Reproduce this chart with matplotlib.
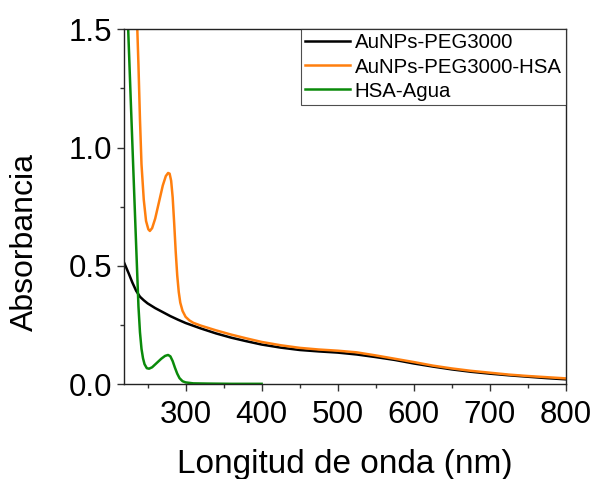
import matplotlib
matplotlib.use("Agg")
import matplotlib.pyplot as plt
from matplotlib.ticker import MultipleLocator

plt.rcParams['font.family'] = ['Liberation Sans', 'DejaVu Sans']

# AuNPs-PEG3000
wl_peg = [219, 225, 230, 235, 240, 245, 250, 260, 270, 280, 290, 300, 320, 340, 360, 380, 400,
          425, 450, 475, 500, 525, 550, 575, 600, 625, 650, 675, 700, 725, 750, 775, 800]
abs_peg = [0.515, 0.47, 0.43, 0.395, 0.37, 0.355, 0.342, 0.322, 0.305, 0.288, 0.273, 0.259, 0.236,
           0.215, 0.197, 0.182, 0.168, 0.155, 0.145, 0.139, 0.134, 0.126, 0.115, 0.103, 0.088,
           0.075, 0.063, 0.053, 0.045, 0.038, 0.032, 0.026, 0.021]

# AuNPs-PEG3000-HSA
wl_hsa = [236, 238, 240, 242, 245, 248, 251, 253, 256, 260, 265, 270, 274, 277, 279, 281, 283, 285,
          287, 289, 291, 293, 296, 300, 305, 310, 320, 340, 360, 380, 400, 425, 450, 475, 500, 525,
          550, 575, 600, 625, 650, 675, 700, 725, 750, 775, 800]
abs_hsa = [1.55, 1.35, 1.12, 0.93, 0.78, 0.69, 0.655, 0.648, 0.66, 0.70, 0.77, 0.84, 0.88, 0.893,
           0.89, 0.86, 0.79, 0.68, 0.56, 0.46, 0.39, 0.345, 0.31, 0.285, 0.27, 0.26, 0.248, 0.228,
           0.21, 0.194, 0.179, 0.165, 0.154, 0.147, 0.142, 0.135, 0.122, 0.108, 0.094, 0.079,
           0.067, 0.057, 0.049, 0.041, 0.035, 0.03, 0.025]

# HSA-Agua
wl_agua = [220, 224.5, 228, 231, 234, 236, 238, 240, 242, 244, 246, 249, 252, 256, 262, 268, 273,
           277, 280, 283, 286, 289, 292, 296, 300, 310, 330, 360, 400]
abs_agua = [1.9, 1.5, 1.19, 0.93, 0.67, 0.5, 0.33, 0.22, 0.15, 0.11, 0.085, 0.068, 0.066, 0.072,
            0.09, 0.108, 0.12, 0.124, 0.118, 0.098, 0.07, 0.045, 0.026, 0.013, 0.008, 0.004,
            0.003, 0.002, 0.002]

labels = ["AuNPs-PEG3000", "AuNPs-PEG3000-HSA", "HSA-Agua"]
colors = ["#000000", "#ff7f0e", "#0a8a0a"]

fig = plt.figure(figsize=(5.95, 4.79), dpi=100)
ax = fig.add_axes([0.2084, 0.1977, 0.951 - 0.2084, 0.9388 - 0.1977])

ax.plot(wl_peg, abs_peg, color=colors[0], lw=1.8, label=labels[0])
ax.plot(wl_hsa, abs_hsa, color=colors[1], lw=1.8, label=labels[1])
ax.plot(wl_agua, abs_agua, color=colors[2], lw=1.8, label=labels[2])

ax.set_xlim(219, 800)
ax.set_ylim(0, 1.5)
ax.xaxis.set_major_locator(MultipleLocator(100))
ax.xaxis.set_minor_locator(MultipleLocator(50))
ax.yaxis.set_major_locator(MultipleLocator(0.5))
ax.yaxis.set_minor_locator(MultipleLocator(0.25))
ax.yaxis.set_major_formatter(plt.FuncFormatter(lambda v, p: f"{v:.1f}"))

ax.tick_params(which='both', direction='out', top=False, right=False, labelsize=22.5, width=1, color='#333333')
ax.tick_params(axis='x', which='major', length=5, pad=6)
ax.tick_params(axis='y', which='major', length=5, pad=3.5)
ax.tick_params(which='minor', length=3)
for s in ax.spines.values():
    s.set_linewidth(1.0)
    s.set_color('#222222')

ax.set_xlabel("Longitud de onda (nm)", fontsize=24, labelpad=14)
ax.set_ylabel("Absorbancia", fontsize=23)
ax.yaxis.set_label_coords(-0.19, 0.40)

leg = ax.legend(loc='upper right', borderaxespad=0, fontsize=14.7, frameon=True, fancybox=False,
                edgecolor='#222222', handlelength=2.2, handletextpad=0.25, labelspacing=0.25,
                borderpad=0.2)
leg.get_frame().set_linewidth(0.8)

fig.savefig("out.png", dpi=100)
